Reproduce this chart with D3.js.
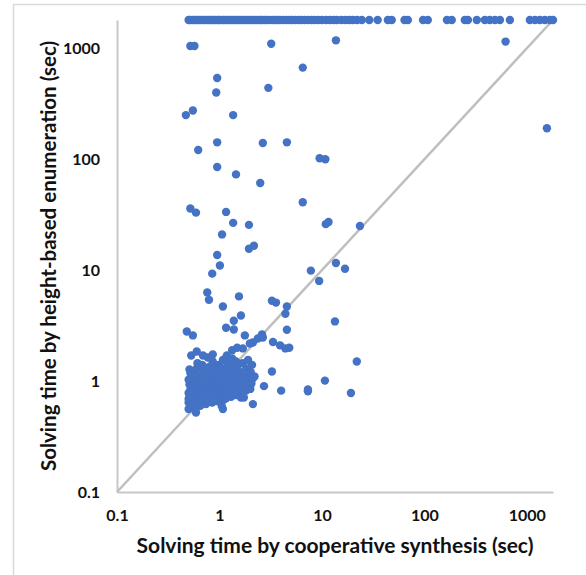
<!DOCTYPE html>
<html>
<head>
<meta charset="utf-8">
<script src="https://cdn.jsdelivr.net/npm/d3@7"></script>
<style>
  body { margin: 0; background: #fff; }
  svg { display: block; font-family: Lato, "Open Sans", sans-serif; }
</style>
</head>
<body>
<div id="chart"></div>
<script>
// =======================
// SCATTER (log-log)
// Cooperative synthesis vs height-based enumeration solving time
// =======================

// Timeout value (sec) used for unsolved runs
const timeout = 1800;

// Runs where height-based enumeration timed out: cooperative synthesis time (sec)
const timeoutCoop = [
  0.5, 0.52, 0.55, 0.57, 0.6, 0.63, 0.66, 0.7, 0.73, 0.77, 0.8, 0.84, 0.88, 0.92, 0.97,
  1.0, 1.05, 1.1, 1.15, 1.2, 1.27, 1.33, 1.4, 1.47, 1.55, 1.62, 1.7, 1.8, 1.9, 2.0,
  2.1, 2.2, 2.35, 2.5, 2.6, 2.75, 2.9, 3.1, 3.3, 3.5, 3.7, 3.9, 4.2, 4.5, 4.8, 5.1,
  5.5, 5.9, 6.3, 6.8, 7.3, 7.9, 8.5, 9.2, 10, 11, 12, 13, 14, 15.5, 17, 18.5, 20, 22,
  24.5, 29, 35, 44, 48, 64, 69, 97, 108, 166, 185, 248, 266, 325, 389, 435, 488, 546,
  683, 1070, 1200, 1340, 1500, 1680, 1800
];

// Scattered runs: [cooperative synthesis (sec), height-based enumeration (sec)]
const scattered = [
  [0.52, 1050], [0.57, 1050], [3.2, 1100], [13.7, 1180], [620, 1150],
  [6.5, 670], [0.95, 540], [0.93, 400], [3.0, 440],
  [0.55, 275], [0.47, 250], [1.36, 250],
  [0.95, 142], [2.65, 140], [4.55, 142], [0.62, 121], [1570, 190],
  [0.95, 85], [1.45, 73], [2.5, 61], [9.5, 102], [10.8, 100],
  [6.5, 41], [0.52, 36], [0.59, 33], [1.16, 33.5],
  [1.36, 26.7], [1.94, 25.6], [1.06, 21], [10.9, 26], [11.6, 27.2], [23.5, 25],
  [1.94, 15.6], [2.17, 16.6], [0.95, 13.7], [1.01, 11], [0.85, 9.3],
  [7.8, 9.9], [13.7, 11.6], [16.8, 10.3], [9.4, 8.0],
  [0.76, 6.3], [0.79, 5.4], [1.55, 5.8], [3.25, 5.3], [3.56, 5.1],
  [1.08, 4.7], [4.55, 4.7], [4.4, 4.05], [13.4, 3.45], [4.55, 2.9],
  [3.9, 2.1], [4.4, 1.97], [4.8, 2.0], [21.9, 1.5], [10.7, 1.01],
  [4.0, 0.82], [7.3, 0.84], [7.3, 0.81], [19.2, 0.78],
  [1.62, 3.9], [1.38, 3.5], [1.16, 3.03], [1.38, 2.92], [1.77, 2.58],
  [0.48, 2.8], [0.55, 2.58], [2.6, 2.63], [2.65, 2.47], [2.37, 2.42],
  [2.12, 2.23], [1.98, 2.18], [3.33, 2.25],
  [3.25, 1.22], [2.72, 0.9], [2.12, 0.62], [1.08, 0.56], [0.59, 0.52]
];

// Dense group of quick runs near 1 sec
const cluster = [
  [0.5, 0.56], [0.52, 0.6], [0.5, 0.64], [0.53, 0.67], [0.51, 0.71], [0.54, 0.74],
  [0.5, 0.78], [0.52, 0.83], [0.55, 0.88], [0.51, 0.93], [0.53, 0.98], [0.5, 1.03],
  [0.54, 1.1], [0.52, 1.18], [0.51, 1.27], [0.53, 1.7], [0.5, 0.69], [0.55, 0.62],
  [0.58, 0.55], [0.6, 0.59], [0.62, 0.63], [0.58, 0.68], [0.61, 0.72], [0.59, 0.77],
  [0.62, 0.82], [0.6, 0.87], [0.58, 0.92], [0.61, 0.97], [0.6, 1.04], [0.62, 1.1],
  [0.58, 1.17], [0.6, 1.3], [0.61, 1.45], [0.6, 1.85],
  [0.65, 0.6], [0.68, 0.64], [0.66, 0.67], [0.7, 0.72], [0.67, 0.76], [0.69, 0.81],
  [0.65, 0.86], [0.7, 0.91], [0.67, 0.98], [0.69, 1.04], [0.66, 1.12], [0.7, 1.24],
  [0.68, 1.4], [0.69, 1.7],
  [0.74, 0.62], [0.78, 0.66], [0.76, 0.7], [0.8, 0.74], [0.75, 0.79], [0.79, 0.84],
  [0.77, 0.9], [0.8, 0.96], [0.74, 1.02], [0.78, 1.09], [0.76, 1.19], [0.8, 1.35], [0.77, 1.63],
  [0.85, 0.64], [0.88, 0.68], [0.84, 0.72], [0.9, 0.77], [0.86, 0.82], [0.89, 0.88],
  [0.85, 0.94], [0.9, 1.0], [0.87, 1.07], [0.84, 1.15], [0.89, 1.28], [0.86, 1.5], [0.86, 1.74],
  [0.95, 0.66], [0.99, 0.7], [0.96, 0.74], [1.0, 0.8], [0.94, 0.85], [0.98, 0.91],
  [0.95, 0.97], [1.0, 1.05], [0.97, 1.13], [0.95, 1.22], [0.99, 1.4],
  [1.05, 0.6], [1.1, 0.68], [1.06, 0.73], [1.09, 0.78], [1.04, 0.84], [1.1, 0.9],
  [1.07, 0.98], [1.05, 1.06], [1.09, 1.15], [1.06, 1.3], [1.08, 1.55],
  [1.16, 0.7], [1.2, 0.76], [1.15, 0.82], [1.22, 0.88], [1.18, 0.95], [1.15, 1.02],
  [1.21, 1.1], [1.17, 1.25], [1.2, 1.45], [1.18, 1.7],
  [1.3, 0.72], [1.34, 0.8], [1.32, 0.86], [1.3, 0.93], [1.35, 1.0], [1.31, 1.08],
  [1.34, 1.2], [1.3, 1.35], [1.33, 1.6], [1.33, 1.9],
  [1.45, 0.75], [1.5, 0.83], [1.47, 0.9], [1.45, 0.97], [1.5, 1.05], [1.46, 1.15],
  [1.49, 1.3], [1.45, 1.5], [1.49, 2.0],
  [1.62, 0.71], [1.68, 0.8], [1.63, 0.88], [1.7, 0.95], [1.65, 1.05], [1.6, 1.2],
  [1.68, 1.45], [1.69, 1.97],
  [1.82, 0.82], [1.88, 0.92], [1.8, 1.0], [1.86, 1.12], [1.83, 1.3], [1.9, 1.55], [1.73, 0.71],
  [2.0, 0.85], [2.05, 0.95], [2.1, 1.05], [2.02, 1.2], [2.08, 1.4], [2.2, 1.1]
];

const tickValues = [0.1, 1, 10, 100, 1000];

const width = 586, height = 575;
const plot = { left: 117, right: 553, top: 20, bottom: 492 };

const svg = d3.select("#chart")
  .append("svg")
    .attr("width", width)
    .attr("height", height);

// outer chart border (only top/left visible in the picture)
svg.append("rect")
  .attr("x", 13.5)
  .attr("y", 4.5)
  .attr("width", 700)
  .attr("height", 700)
  .attr("fill", "none")
  .attr("stroke", "#d9d9d9")
  .attr("stroke-width", 1.5);

// Scales
const x = d3.scaleLog()
  .domain([0.1, timeout])
  .range([plot.left, plot.right]);

const y = d3.scaleLog()
  .domain([0.1, timeout])
  .range([plot.bottom, plot.top]);

// Axes
const xAxis = svg.append("g")
  .attr("transform", `translate(0,${plot.bottom})`)
  .call(d3.axisBottom(x).tickValues(tickValues).tickSize(0).tickPadding(18)
    .tickFormat(d => d3.format("~g")(d)));

const yAxis = svg.append("g")
  .attr("transform", `translate(${plot.left},0)`)
  .call(d3.axisLeft(y).tickValues(tickValues).tickSize(0).tickPadding(17)
    .tickFormat(d => d3.format("~g")(d)));

[xAxis, yAxis].forEach(g => {
  g.select(".domain").attr("stroke", "#c8c8c8").attr("stroke-width", 2);
  g.selectAll("text")
    .attr("fill", "#111")
    .style("font-size", "16px")
    .style("font-weight", "bold")
    .style("font-family", "Lato, sans-serif");
});
yAxis.selectAll("text").attr("dy", "0.35em");

// Diagonal (equal time)
svg.append("line")
  .attr("x1", x(0.1)).attr("y1", y(0.1))
  .attr("x2", x(timeout)).attr("y2", y(timeout))
  .attr("stroke", "#bfbfbf")
  .attr("stroke-width", 2.5);

// Points
const allPoints = timeoutCoop.map(v => [v, timeout]).concat(scattered, cluster);

svg.append("g")
  .selectAll("circle")
  .data(allPoints)
  .enter()
  .append("circle")
    .attr("cx", d => x(d[0]))
    .attr("cy", d => y(d[1]))
    .attr("r", 4.2)
    .attr("fill", "#4472c4");

// Axis titles
svg.append("text")
  .attr("x", (plot.left + plot.right) / 2)
  .attr("y", 553)
  .attr("text-anchor", "middle")
  .style("font-size", "21px")
  .style("font-weight", "bold")
  .attr("fill", "#111")
  .text("Solving time by cooperative synthesis (sec)");

svg.append("text")
  .attr("transform", `translate(56,${(plot.top + plot.bottom) / 2}) rotate(-90)`)
  .attr("text-anchor", "middle")
  .style("font-size", "20.5px")
  .style("font-weight", "bold")
  .attr("fill", "#111")
  .text("Solving time by height-based enumeration (sec)");
</script>
</body>
</html>
